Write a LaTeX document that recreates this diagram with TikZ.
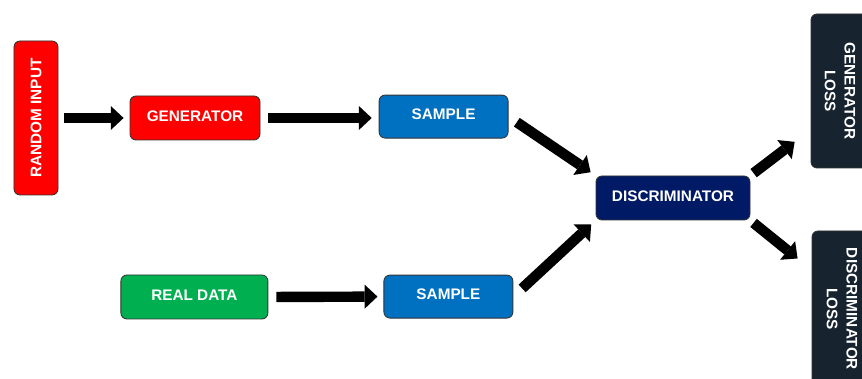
\documentclass[tikz,border=0pt]{standalone}
\usepackage{fontspec}
\setmainfont{Liberation Sans}
\usetikzlibrary{arrows.meta, calc}
\usepackage{xcolor}

\definecolor{genred}{HTML}{FF0000}
\definecolor{realgreen}{HTML}{00B050}
\definecolor{sampleblue}{HTML}{0070C0}
\definecolor{discnavy}{HTML}{001A66}
\definecolor{lossdark}{HTML}{17232F}

\begin{document}
\begin{tikzpicture}[
    box node/.style={rectangle, rounded corners=0.15cm, draw=black!80, line width=0.6pt,
        text=white, align=center, inner sep=0pt,
        font=\bfseries\fontsize{10.9}{14}\selectfont},
    flat node/.style={box node, text depth=3pt},
    big arrow/.style={line width=0.26cm, -{Triangle[length=0.32cm, width=0.6cm, line width=0pt]}}
]
    \useasboundingbox (0, 0) rectangle (21.55, 9.475);

    % Nodes
    \node[box node, fill=genred, rotate=90, minimum width=3.85cm, minimum height=1.1cm] (rand) at (0.9, 6.525) {RANDOM INPUT};
    \node[flat node, fill=genred, minimum width=3.25cm, minimum height=1.1cm] (gen) at (4.875, 6.525) {GENERATOR};
    \node[flat node, fill=sampleblue, minimum width=3.225cm, minimum height=1.075cm] (samp1) at (11.09, 6.56) {SAMPLE};
    \node[flat node, fill=realgreen, minimum width=3.675cm, minimum height=1.1cm] (real) at (4.86, 2.05) {REAL DATA};
    \node[flat node, fill=sampleblue, minimum width=3.225cm, minimum height=1.075cm] (samp2) at (11.21, 2.06) {SAMPLE};
    \node[flat node, fill=discnavy, minimum width=3.85cm, minimum height=1.1cm] (disc) at (16.825, 4.525) {DISCRIMINATOR};
    \node[box node, fill=lossdark, rotate=-90, minimum width=3.85cm, minimum height=1.45cm] (gloss) at (21.0, 7.2) {GENERATOR\\LOSS};
    \node[box node, fill=lossdark, rotate=-90, minimum width=3.9cm, minimum height=1.5cm] (dloss) at (21.05, 1.75) {DISCRIMINATOR\\LOSS};

    % Edges (rotated nodes: rand.south and the loss nodes' south face the arrows)
    \draw[big arrow, shorten <=0.15cm, shorten >=0.15cm] (rand.south) -- (gen.west);
    \draw[big arrow, shorten <=0.2cm, shorten >=0.175cm] (gen.east) -- (gen.east -| samp1.west);
    \draw[big arrow, shorten <=0.2cm, shorten >=0.15cm] (real.east) -- (samp2.west);
    \draw[big arrow, shorten <=0.25cm, shorten >=0.15cm] (samp1.east) -- (disc.north west);
    \draw[big arrow, shorten <=0.3cm, shorten >=0.15cm] (samp2.east) -- (disc.south west);
    \draw[big arrow, shorten <=0.1cm, shorten >=0.5cm] (disc.north east) -- ($(gloss.south)!0.5!(gloss.south east)$);
    \draw[big arrow, shorten <=0.1cm, shorten >=0.45cm] (disc.south east) -- ($(dloss.south west)!0.5!(dloss.south)$);
\end{tikzpicture}
\end{document}
